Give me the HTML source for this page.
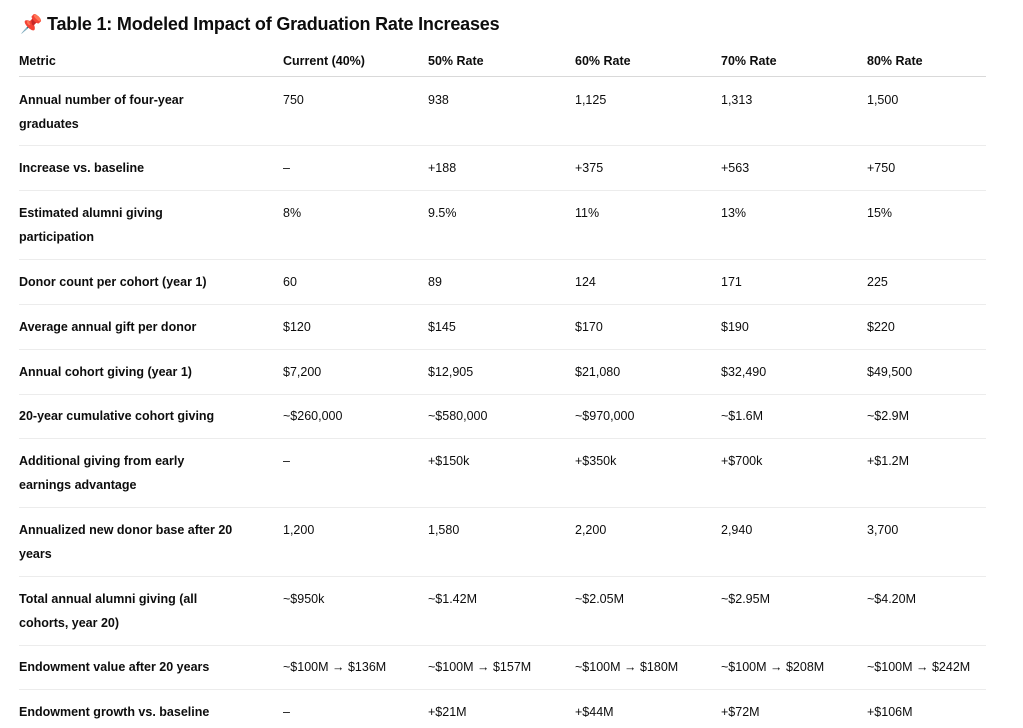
<!DOCTYPE html>
<html><head><meta charset="utf-8"><style>
body{margin:0;width:1023px;height:728px;background:#fff;overflow:hidden;font-family:"Liberation Sans",sans-serif;color:#0d0d0d;position:relative}
.t{position:absolute;left:20px;top:14px;font-size:18px;font-weight:bold;letter-spacing:-0.2px}
.c{position:absolute;font-size:12.5px;line-height:24px;white-space:nowrap}
.b{font-weight:bold}
.l{position:absolute;left:19px;width:967px;height:1px;background:#ececec}
</style></head><body>
<div class="t"><span style="color:#d33">📌</span> Table 1: Modeled Impact of Graduation Rate Increases</div>
<div id="w"></div>
<script>
const X=[19,283,428,575,721,867];
const rows=[
[61,["Metric","Current (40%)","50% Rate","60% Rate","70% Rate","80% Rate"],1,76],
[100,["Annual number of four-year<br>graduates","750","938","1,125","1,313","1,500"],0,145],
[168,["Increase vs. baseline","–","+188","+375","+563","+750"],0,190],
[213,["Estimated alumni giving<br>participation","8%","9.5%","11%","13%","15%"],0,259],
[282,["Donor count per cohort (year 1)","60","89","124","171","225"],0,304],
[327,["Average annual gift per donor","$120","$145","$170","$190","$220"],0,349],
[372,["Annual cohort giving (year 1)","$7,200","$12,905","$21,080","$32,490","$49,500"],0,394],
[416,["20-year cumulative cohort giving","~$260,000","~$580,000","~$970,000","~$1.6M","~$2.9M"],0,438],
[461,["Additional giving from early<br>earnings advantage","–","+$150k","+$350k","+$700k","+$1.2M"],0,507],
[530,["Annualized new donor base after 20<br>years","1,200","1,580","2,200","2,940","3,700"],0,576],
[599,["Total annual alumni giving (all<br>cohorts, year 20)","~$950k","~$1.42M","~$2.05M","~$2.95M","~$4.20M"],0,645],
[667,["Endowment value after 20 years","~$100M → $136M","~$100M → $157M","~$100M → $180M","~$100M → $208M","~$100M → $242M"],0,689],
[712,["Endowment growth vs. baseline","–","+$21M","+$44M","+$72M","+$106M"],0,null]];
let h="";
for(const [y,cells,hd,sep] of rows){
 cells.forEach((c,i)=>{h+=`<div class="c${i==0?' b':''}" style="left:${X[i]}px;top:${y-12}px${hd?';font-weight:bold':''}">${c}</div>`;});
 if(sep)h+=`<div class="l" style="top:${sep}px${hd?';background:#d9d9d9':''}"></div>`;
}
document.getElementById('w').innerHTML=h;
</script>
</body></html>
